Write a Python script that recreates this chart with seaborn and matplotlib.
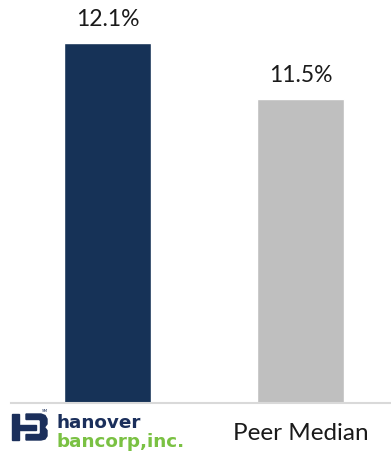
import matplotlib
matplotlib.use("Agg")
import matplotlib.pyplot as plt
import seaborn as sns
import pandas as pd
from matplotlib.patches import Polygon

categories = ["hanover bancorp, inc.", "Peer Median"]
values = [12.1, 11.5]
value_labels = ["12.1%", "11.5%"]
colors = ["#163257", "#BFBFBF"]

df = pd.DataFrame({"cat": categories, "val": values})

sns.set_theme(style="white")
plt.rcParams["font.family"] = ["Lato", "DejaVu Sans"]

W, H = 391, 452
fig = plt.figure(figsize=(W / 100, H / 100), dpi=100)
ax = fig.add_axes([11 / W, 48 / H, (390 - 11) / W, (H - 48) / H])

sns.barplot(data=df, x="cat", y="val", hue="cat", palette=colors, width=0.45,
            legend=False, ax=ax, saturation=1)

ax.set_ylim(8.243, 12.571)
ax.set_xlim(-0.5, 1.464)
for s in ["top", "right", "left"]:
    ax.spines[s].set_visible(False)
ax.spines["bottom"].set_color("#D9D9D9")
ax.spines["bottom"].set_linewidth(1.5)
ax.set_yticks([])
ax.set_xlabel("")
ax.set_ylabel("")
ax.set_xticks([0, 1])
ax.set_xticklabels(["", "Peer Median"], fontsize=17.5, color="#1a1a1a")
ax.tick_params(axis="x", length=0, pad=14)

for i, (v, lab) in enumerate(zip(values, value_labels)):
    ax.annotate(lab, (i, v), xytext=(0, 13), textcoords="offset points",
                ha="center", va="baseline", fontsize=16.5, color="#1a1a1a")

# logo for the first category
def P(x, y):
    return (x / W, 1 - y / H)

navy = "#1B2F5B"
green = "#7AC143"
shapes = [
    [(12, 415), (18.5, 415), (18.5, 441), (12, 441)],
    [(18.5, 425.5), (36, 425.5), (36, 431), (18.5, 431)],
    [(26, 415), (41, 415), (45, 416.5), (47, 420), (47, 425), (44.5, 428.2),
     (47, 431.5), (47, 437), (45, 440), (41, 441), (26, 441), (26, 435.5),
     (39.5, 435.5), (40.5, 434), (40.5, 422), (39.5, 420.5), (26, 420.5)],
]
for s in shapes:
    fig.patches.append(Polygon([P(*p) for p in s], closed=True, color=navy,
                               transform=fig.transFigure, figure=fig))
fig.text(*P(42, 412), "SM", fontsize=3, color=navy, family="DejaVu Sans")
fig.text(*P(56.5, 428.5), "hanover", fontsize=13.2, fontweight="bold",
         color=navy, family="DejaVu Sans", va="baseline", ha="left")
fig.text(*P(56.5, 446.8), "bancorp,inc.", fontsize=13.2, fontweight="bold",
         color=green, family="DejaVu Sans", va="baseline", ha="left")

fig.savefig("out.png", dpi=100)
